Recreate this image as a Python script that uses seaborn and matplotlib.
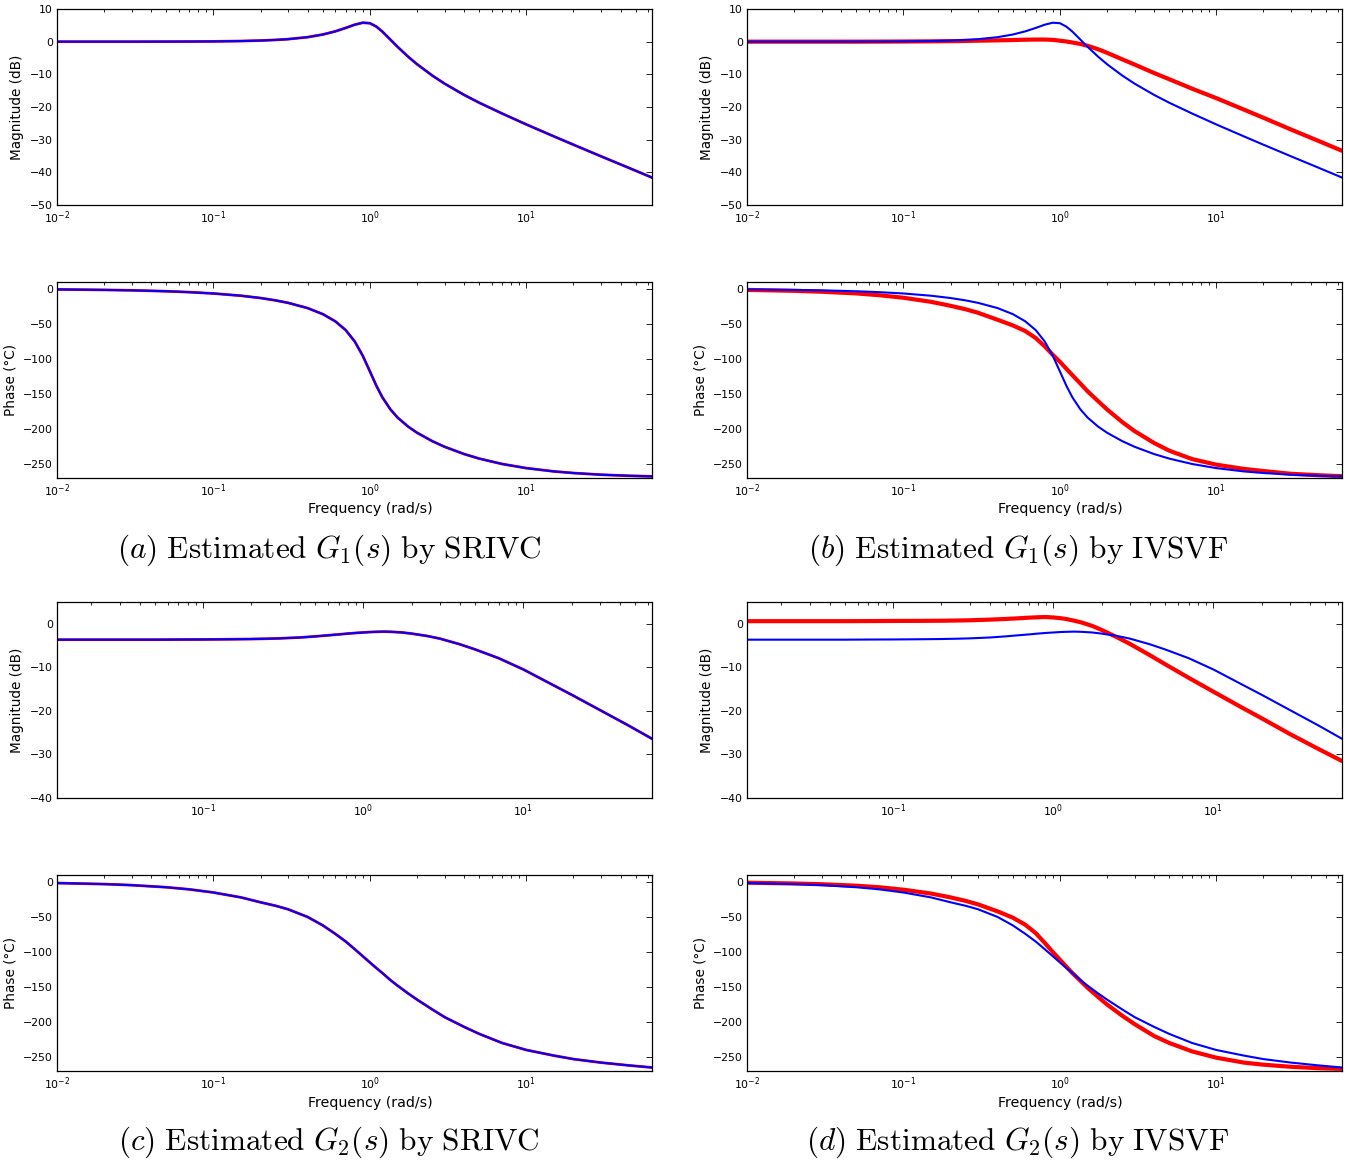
import pandas as pd
import seaborn as sns
import matplotlib.pyplot as plt

# frequency grid (rad/s) shared by every curve
freq = [0.01, 0.02, 0.03, 0.05, 0.07, 0.1, 0.15, 0.2, 0.25, 0.3, 0.4, 0.5, 0.6, 0.7, 0.8, 0.9, 1.0, 1.1, 1.2,
        1.35, 1.5, 1.75, 2.0, 2.5, 3.0, 4.0, 5.0, 7.0, 10.0, 15.0, 20.0, 30.0, 45.0, 63.5]

# true G1(s)
g1_mag = [0.0, 0.0, 0.0, 0.02, 0.04, 0.08, 0.19, 0.34, 0.54, 0.77, 1.38, 2.19, 3.15, 4.2, 5.2, 5.8, 5.65, 4.6, 3.1,
          0.65, -1.55, -4.55, -6.9, -10.35, -12.85, -16.3, -18.7, -22.0, -25.35, -29.0, -31.55, -35.1, -38.6, -41.6]
g1_phase = [-0.6, -1.3, -1.9, -3.2, -4.5, -6.4, -9.6, -12.9, -16.3, -19.8, -27.3, -35.9, -46.1, -58.7, -75.0, -95.4,
            -117.8, -138.3, -154.6, -171.8, -183.5, -196.4, -205.3, -217.3, -225.4, -235.8, -242.3, -250.0, -255.9,
            -260.6, -262.9, -265.3, -266.8, -267.7]

# G1(s) estimated by IVSVF
g1_ivsvf_mag = [0.0, 0.0, 0.0, 0.0, 0.02, 0.05, 0.1, 0.15, 0.22, 0.3, 0.4, 0.5, 0.6, 0.65, 0.65, 0.55, 0.3, 0.05, -0.25,
                -0.7, -1.25, -2.3, -3.4, -5.4, -7.0, -9.6, -11.5, -14.4, -17.3, -20.8, -23.3, -26.9, -30.4, -33.4]
g1_ivsvf_phase = [-1.3, -2.6, -3.9, -6.3, -8.9, -12.5, -18.3, -24, -29, -34, -44, -52, -60, -70, -82, -94, -104, -114,
                  -123, -135, -146, -160, -172, -190, -203, -220, -231, -243, -251, -257, -260, -264, -266, -267.5]

# true G2(s)
g2_mag = [-3.65, -3.65, -3.65, -3.65, -3.62, -3.6, -3.55, -3.5, -3.43, -3.35, -3.15, -2.9, -2.65, -2.45, -2.25, -2.1,
          -2.0, -1.9, -1.85, -1.8, -1.85, -2.0, -2.25, -2.8, -3.4, -4.7, -5.9, -7.9, -10.5, -13.9, -16.3, -19.8,
          -23.3, -26.4]
g2_phase = [-1.5, -3.0, -4.5, -7.5, -10.5, -15, -22, -29, -34, -39, -50, -62, -74, -85, -96, -106, -115, -123, -130,
            -140, -148, -159, -168, -182, -193, -207, -217, -230, -240, -248, -253, -258, -262, -265]

# G2(s) estimated by IVSVF
g2_ivsvf_mag = [0.6, 0.6, 0.6, 0.6, 0.62, 0.65, 0.67, 0.7, 0.75, 0.8, 0.95, 1.1, 1.25, 1.4, 1.5, 1.55, 1.45, 1.3, 1.1,
                0.7, 0.3, -0.5, -1.4, -3.1, -4.6, -7.2, -9.3, -12.4, -15.6, -19.2, -21.7, -25.3, -28.7, -31.5]
g2_ivsvf_phase = [-1.0, -2.1, -3.2, -5.3, -7.5, -11, -16.5, -22, -27, -32, -42, -51, -61, -73, -87, -100, -111, -121,
                  -130, -141, -151, -164, -175, -191, -203, -220, -230, -242, -251, -258, -261, -264, -266, -267]

captions = [r"$\mathit{(a)}\ \mathrm{Estimated}\ G_1(s)\ \mathrm{by\ SRIVC}$",
            r"$\mathit{(b)}\ \mathrm{Estimated}\ G_1(s)\ \mathrm{by\ IVSVF}$",
            r"$\mathit{(c)}\ \mathrm{Estimated}\ G_2(s)\ \mathrm{by\ SRIVC}$",
            r"$\mathit{(d)}\ \mathrm{Estimated}\ G_2(s)\ \mathrm{by\ IVSVF}$"]

sns.set_style("white")
plt.rcParams['font.family'] = ['DejaVu Sans']
plt.rcParams.update({"text.color": "black", "axes.labelcolor": "black",
                     "xtick.color": "black", "ytick.color": "black"})

W, H = 1362, 1167
fig = plt.figure(figsize=(W / 100, H / 100), dpi=100)


def px_axes(left, top, right, bottom):
    return fig.add_axes([left / W, 1 - bottom / H, (right - left) / W, (bottom - top) / H])


def bode(ax, est, true, est_lw, xlim, ylim, yticks, ylabel, xlabel=None):
    df = pd.DataFrame({"freq": freq, "est": est, "true": true})
    sns.lineplot(data=df, x="freq", y="est", ax=ax, color="#ff0000", linewidth=est_lw,
                 estimator=None, sort=False)
    sns.lineplot(data=df, x="freq", y="true", ax=ax, color="#0000ff", linewidth=1.5,
                 estimator=None, sort=False)
    ax.set_xscale("log")
    ax.set_xlim(xlim)
    ax.set_ylim(ylim)
    ax.set_yticks(yticks)
    ax.set_ylabel(ylabel, fontsize=9.8)
    ax.set_xlabel(xlabel if xlabel else "", fontsize=10.2)
    # label centred under the 10^0 tick, as in the source figure
    ax.xaxis.set_label_coords((370 - 57) / 595, -0.125)
    ax.tick_params(which="both", direction="in", top=True, right=True, labelsize=7.8,
                   width=0.6, pad=3)
    ax.tick_params(which="major", length=4)
    ax.tick_params(which="minor", length=2.3)
    for s in ax.spines.values():
        s.set_color("black")
        s.set_linewidth(0.9)


cols = [(57, 652), (747, 1342)]
panels = [
    (0, (9, 205), (282, 478), g1_mag, g1_mag, g1_phase, g1_phase, 2.0, (0.01, 63.5), (-50, 10), range(-50, 11, 10)),
    (1, (9, 205), (282, 478), g1_ivsvf_mag, g1_mag, g1_ivsvf_phase, g1_phase, 3.0, (0.01, 63.5), (-50, 10), range(-50, 11, 10)),
    (0, (602, 798), (875, 1071), g2_mag, g2_mag, g2_phase, g2_phase, 2.0, (0.0122, 63.5), (-40, 5), range(-40, 1, 10)),
    (1, (602, 798), (875, 1071), g2_ivsvf_mag, g2_mag, g2_ivsvf_phase, g2_phase, 3.0, (0.0122, 63.5), (-40, 5), range(-40, 1, 10)),
]

for i, (c, mrow, prow, em, tm, ep, tp, lw, mxlim, mylim, mticks) in enumerate(panels):
    l, r = cols[c]
    ax_m = px_axes(l, mrow[0], r, mrow[1])
    bode(ax_m, em, tm, lw, mxlim, mylim, list(mticks), "Magnitude (dB)")
    ax_p = px_axes(l, prow[0], r, prow[1])
    bode(ax_p, ep, tp, lw, (0.01, 63.5), (-270, 10), [-250, -200, -150, -100, -50, 0],
         "Phase (°C)", "Frequency (rad/s)")
    cx = 329 if c == 0 else 1018
    cy = 550 if i < 2 else 1142
    fig.text(cx / W, 1 - cy / H, captions[i], ha="center", va="center", fontsize=22.5,
             math_fontfamily="cm")

fig.savefig("out.png", dpi=100)
